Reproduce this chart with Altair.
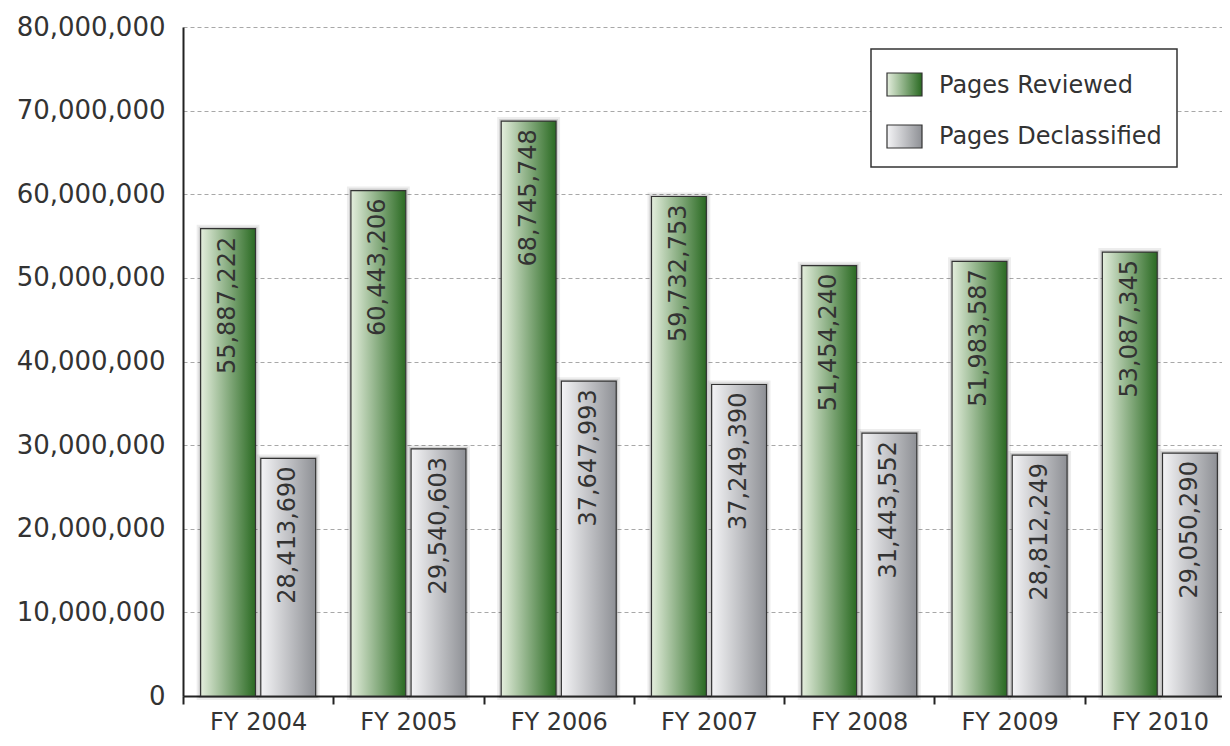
import altair as alt
import pandas as pd

years = ["FY 2004", "FY 2005", "FY 2006", "FY 2007", "FY 2008", "FY 2009", "FY 2010"]
reviewed = [55887222, 60443206, 68745748, 59732753, 51454240, 51983587, 53087345]
declassified = [28413690, 29540603, 37647993, 37249390, 31443552, 28812249, 29050290]
series = ["Pages Reviewed", "Pages Declassified"]
y_ticks = [0, 10000000, 20000000, 30000000, 40000000, 50000000, 60000000, 70000000, 80000000]

FONT = "DejaVu Sans"
TXT = "#333333"

rows = []
for i, yr in enumerate(years):
    rows.append({"year": yr, "series": series[0], "value": reviewed[i]})
    rows.append({"year": yr, "series": series[1], "value": declassified[i]})
df = pd.DataFrame(rows)
df["label"] = df["value"].map(lambda v: f"{v:,}")

legend_df = pd.DataFrame({"series": series})


def grad(c0, c1):
    return alt.LinearGradient(
        gradient="linear",
        stops=[alt.GradientStop(color=c0, offset=0), alt.GradientStop(color=c1, offset=1)],
        x1=0, x2=1, y1=0, y2=0,
    )


green = grad("#e4eedd", "#2a6a22")
gray = grad("#f4f4f6", "#8e9095")

x_enc = alt.X(
    "year:N",
    sort=years,
    scale=alt.Scale(domain=years, paddingInner=0, paddingOuter=0, range=[0, 1052]),
    axis=alt.Axis(
        title=None, labelAngle=0, tickBand="extent", tickSize=8, tickWidth=2,
        tickColor="#222222", domainColor="#222222", domainWidth=2,
        labelFontSize=24, labelPadding=25, labelBaseline="alphabetic",
        labelColor=TXT, labelFont=FONT, grid=False,
    ),
)
xo_enc = alt.XOffset(
    "series:N", sort=series,
    scale=alt.Scale(domain=series, paddingInner=0.088, paddingOuter=0.293),
)
y_enc = alt.Y(
    "value:Q",
    scale=alt.Scale(domain=[0, 80000000], nice=False),
    axis=alt.Axis(
        title=None, values=y_ticks, format=",.0f", ticks=False, labelPadding=18,
        labelFontSize=26, labelColor=TXT, labelFont=FONT,
        domainColor="#222222", domainWidth=2,
        grid=True, gridColor="#a8a8a8", gridDash=[4, 3], gridWidth=1,
    ),
)

base = alt.Chart(df).encode(x=x_enc, xOffset=xo_enc, y=y_enc)

shadow1 = base.mark_bar(
    fill="#000000", fillOpacity=0.0, stroke="#000000", strokeOpacity=0.07,
    strokeWidth=8, xOffset=1,
)
shadow2 = base.mark_bar(
    fill="#000000", fillOpacity=0.0, stroke="#000000", strokeOpacity=0.12,
    strokeWidth=4, xOffset=1,
)
bars_r = base.transform_filter(alt.datum.series == series[0]).mark_bar(
    fill=green, stroke="#333333", strokeWidth=1.2
)
bars_d = base.transform_filter(alt.datum.series == series[1]).mark_bar(
    fill=gray, stroke="#333333", strokeWidth=1.2
)
labels = base.mark_text(
    angle=270, align="right", baseline="middle", dx=-8, fontSize=24,
    font=FONT, color=TXT,
).encode(text="label:N")

leg = alt.Chart(legend_df)
leg_box = leg.transform_filter(alt.datum.series == series[0]).mark_rect(
    fill="white", stroke="#333333", strokeWidth=1.5
).encode(x=alt.value(688), x2=alt.value(994), y=alt.value(22), y2=alt.value(140))
leg_sq1 = leg.transform_filter(alt.datum.series == series[0]).mark_rect(
    fill=green, stroke="#333333", strokeWidth=1.2
).encode(x=alt.value(704), x2=alt.value(739), y=alt.value(46), y2=alt.value(69))
leg_sq2 = leg.transform_filter(alt.datum.series == series[1]).mark_rect(
    fill=gray, stroke="#333333", strokeWidth=1.2
).encode(x=alt.value(704), x2=alt.value(739), y=alt.value(98), y2=alt.value(121))
leg_t1 = leg.transform_filter(alt.datum.series == series[0]).mark_text(
    align="left", baseline="middle", fontSize=24, font=FONT, color=TXT
).encode(x=alt.value(756), y=alt.value(59), text="series:N")
leg_t2 = leg.transform_filter(alt.datum.series == series[1]).mark_text(
    align="left", baseline="middle", fontSize=24, font=FONT, color=TXT
).encode(x=alt.value(756), y=alt.value(110), text="series:N")

chart = (
    alt.layer(shadow1, shadow2, bars_r, bars_d, labels,
              leg_box, leg_sq1, leg_sq2, leg_t1, leg_t2)
    .properties(
        width=1039, height=669,
        autosize=alt.AutoSizeParams(type="none"),
        padding={"left": 175, "top": 19, "right": 0, "bottom": 42},
    )
    .configure_view(stroke=None)
)

chart.save("out.html", embed_options={"renderer": "svg", "actions": False})
